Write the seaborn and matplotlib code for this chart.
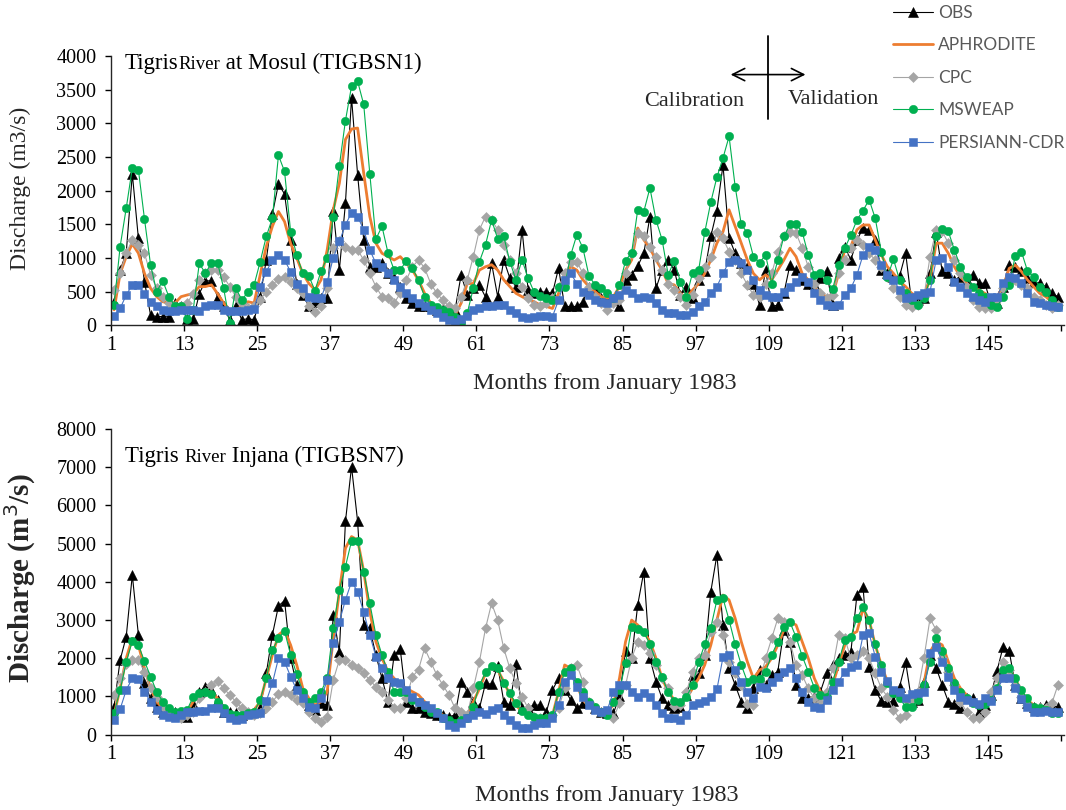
import numpy as np
import matplotlib
matplotlib.use("Agg")
import matplotlib.pyplot as plt
import seaborn as sns
from matplotlib.offsetbox import TextArea, HPacker, AnchoredOffsetbox

# ---------------- data ----------------
months = np.arange(1, 157)
tick_months = list(range(1, 146, 12))
tick_labels = [str(m) for m in tick_months]
series_names = ["OBS", "APHRODITE", "CPC", "MSWEAP", "PERSIANN-CDR"]

mosul_obs = [350, 820, 1070, 2250, 1290, 650, 150, 130, 130, 125, 330, 280,
             100, 90, 470, 660, 660, 425, 280, 80, 280, 80, 100, 80,
             425, 970, 1650, 2100, 1950, 1270, 620, 450, 280, 350, 400, 400,
             1700, 820, 1815, 3380, 2235, 1270, 870, 870, 930, 770, 700, 575,
             400, 330, 280, 280, 280, 230, 240, 250, 230, 750, 450, 550,
             600, 420, 920, 425, 970, 700, 575, 1420, 525, 475, 500, 490,
             475, 850, 280, 280, 280, 350, 575, 550, 400, 400, 375, 280,
             675, 750, 880, 1070, 1615, 550, 820, 970, 820, 450, 575, 400,
             675, 800, 1320, 1705, 2380, 1300, 1070, 920, 870, 620, 300, 820,
             280, 300, 475, 900, 820, 675, 620, 620, 700, 800, 300, 1000,
             1170, 970, 1270, 1440, 1420, 1270, 820, 770, 720, 730, 1070, 325,
             375, 400, 770, 1390, 800, 770, 675, 720, 675, 750, 625, 625,
             325, 325, 575, 895, 870, 800, 700, 650, 625, 575, 475, 425]
mosul_aphrodite = [230, 770, 1020, 1210, 1070, 770, 550, 425, 350, 330, 330, 425,
                   450, 470, 575, 575, 600, 470, 330, 230, 230, 280, 350, 330,
                   750, 1170, 1470, 1690, 1540, 1215, 1000, 770, 620, 525, 675, 1120,
                   1715, 2110, 2760, 2915, 2930, 2260, 1615, 1220, 1070, 1020, 970, 1020,
                   920, 820, 670, 475, 330, 230, 150, 130, 150, 330, 620, 620,
                   820, 870, 900, 820, 675, 575, 475, 425, 375, 350, 300, 280,
                   250, 475, 770, 870, 820, 675, 575, 500, 425, 400, 425, 575,
                   820, 970, 1445, 1270, 1145, 970, 820, 620, 600, 475, 400, 525,
                   620, 770, 970, 1220, 1390, 1715, 1470, 1220, 970, 770, 675, 750,
                   675, 820, 970, 1145, 1020, 770, 675, 575, 475, 425, 450, 770,
                   1120, 1170, 1420, 1490, 1490, 1270, 1045, 870, 770, 650, 575, 475,
                   425, 450, 675, 1220, 1220, 1070, 870, 720, 625, 550, 525, 475,
                   425, 425, 575, 845, 895, 800, 675, 575, 475, 425, 350, 300]
mosul_cpc = [525, 770, 1070, 1270, 1195, 1070, 750, 550, 425, 330, 280, 280,
             330, 470, 675, 770, 820, 820, 720, 575, 425, 330, 250, 280,
             375, 500, 600, 685, 720, 650, 550, 475, 280, 200, 280, 550,
             1145, 1245, 1170, 1120, 1120, 970, 770, 575, 425, 400, 330, 475,
             675, 870, 970, 850, 620, 475, 375, 280, 250, 425, 675, 1020,
             1420, 1615, 1565, 1420, 1195, 970, 770, 575, 400, 300, 280, 330,
             400, 575, 770, 945, 945, 770, 575, 425, 330, 230, 330, 375,
             770, 1070, 1370, 1320, 1170, 1020, 820, 620, 525, 425, 300, 450,
             700, 870, 1020, 1390, 1290, 1095, 970, 770, 600, 450, 425, 620,
             770, 1095, 1320, 1390, 1370, 1145, 870, 620, 475, 400, 450, 770,
             970, 1145, 1270, 1200, 1070, 970, 870, 720, 550, 425, 300, 275,
             300, 425, 1020, 1420, 1395, 1220, 970, 770, 575, 375, 275, 250,
             250, 375, 550, 650, 675, 600, 550, 425, 375, 300, 250, 300]
mosul_msweap = [300, 1170, 1740, 2335, 2310, 1577, 897, 500, 660, 425, 290, 280,
                90, 230, 920, 770, 930, 930, 550, 40, 550, 375, 500, 600,
                945, 1320, 1590, 2525, 2285, 1390, 1045, 770, 730, 515, 810, 1000,
                1615, 2370, 3040, 3550, 3625, 3280, 2250, 1280, 1470, 1070, 820, 820,
                960, 850, 670, 425, 300, 275, 230, 200, 130, 30, 180, 550,
                945, 1195, 1565, 1285, 1320, 945, 675, 970, 700, 490, 440, 400,
                375, 575, 575, 1045, 1345, 1145, 730, 600, 550, 475, 400, 600,
                960, 1080, 1715, 1690, 2040, 1565, 1270, 750, 960, 650, 425, 780,
                820, 1380, 1830, 2200, 2485, 2805, 2060, 1500, 1370, 1020, 930, 1045,
                620, 970, 1320, 1500, 1500, 1390, 1045, 750, 770, 675, 535, 890,
                1145, 1340, 1565, 1705, 1865, 1590, 1095, 720, 980, 670, 475, 375,
                300, 400, 680, 1320, 1430, 1395, 1120, 870, 720, 575, 475, 425,
                300, 275, 425, 600, 1030, 1095, 810, 720, 575, 500, 375, 275]
mosul_persiann = [140, 250, 450, 600, 600, 460, 350, 280, 230, 205, 205, 230,
                  230, 230, 205, 280, 295, 300, 230, 205, 205, 205, 230, 240,
                  575, 795, 970, 1045, 970, 795, 620, 550, 425, 400, 410, 650,
                  1000, 1245, 1490, 1675, 1615, 1420, 1120, 920, 870, 770, 670, 575,
                  475, 400, 330, 280, 230, 180, 130, 80, 55, 90, 140, 230,
                  250, 280, 280, 300, 300, 230, 180, 130, 105, 130, 140, 140,
                  130, 375, 675, 770, 620, 500, 450, 375, 350, 330, 400, 450,
                  525, 475, 400, 425, 400, 330, 230, 180, 190, 150, 150, 200,
                  280, 350, 475, 575, 770, 945, 970, 920, 820, 670, 525, 450,
                  425, 425, 500, 575, 650, 720, 650, 475, 375, 300, 280, 300,
                  450, 550, 750, 1045, 1170, 1120, 895, 745, 675, 525, 400, 425,
                  450, 475, 500, 970, 995, 870, 650, 575, 475, 425, 375, 350,
                  425, 425, 625, 720, 700, 625, 475, 350, 325, 300, 285, 275]

injana_obs = [735, 1955, 2565, 4180, 2610, 1345, 950, 735, 600, 560, 600, 515,
              470, 795, 1130, 1255, 1170, 910, 600, 600, 560, 515, 560, 585,
              690, 1605, 2610, 3370, 3510, 2000, 1300, 950, 775, 645, 820, 775,
              3130, 2170, 5580, 7015, 5580, 2870, 2780, 2085, 1475, 865, 2085, 2240,
              865, 705, 690, 600, 560, 515, 515, 470, 515, 1390, 1125, 865,
              690, 1345, 1320, 1805, 865, 775, 1840, 690, 705, 775, 775, 600,
              1170, 1475, 1170, 910, 690, 820, 820, 690, 600, 560, 560, 1000,
              2200, 2000, 3400, 4270, 2000, 1390, 950, 775, 700, 735, 1040, 1560,
              1605, 2085, 3745, 4705, 2870, 1735, 1300, 865, 690, 1215, 1690, 1300,
              1560, 1650, 2740, 2435, 1300, 950, 970, 995, 1125, 1605, 1825, 2000,
              2085, 2170, 3660, 3875, 1780, 1170, 880, 845, 880, 1255, 1895, 865,
              910, 1390, 2085, 1755, 1300, 865, 795, 705, 970, 950, 585, 780,
              1040, 1665, 2300, 2190, 1300, 950, 820, 735, 735, 780, 735, 735]
injana_aphrodite = [515, 1215, 2000, 2520, 2345, 1735, 1215, 865, 690, 600, 600, 650,
                    600, 865, 1080, 1125, 1125, 950, 690, 515, 515, 515, 600, 650,
                    865, 1475, 2085, 2610, 2740, 2345, 1825, 1215, 950, 775, 865, 1125,
                    2520, 3745, 4880, 5185, 5095, 4270, 3220, 2435, 2000, 1650, 1475, 1300,
                    1215, 1125, 1040, 865, 735, 600, 515, 385, 295, 340, 515, 865,
                    1200, 1605, 1780, 1695, 1390, 1040, 775, 600, 515, 430, 385, 430,
                    515, 1125, 1825, 1735, 1300, 910, 735, 645, 560, 600, 775, 1475,
                    2435, 3000, 2870, 2700, 2435, 2000, 1475, 1125, 910, 820, 950, 1215,
                    1475, 1825, 2345, 3000, 3655, 3525, 3045, 2435, 1910, 1475, 1690, 1780,
                    2000, 2345, 2740, 2960, 2870, 2435, 2000, 1475, 1125, 1040, 1300, 1825,
                    2345, 2610, 2700, 3300, 3000, 2350, 1825, 1390, 1125, 950, 865, 820,
                    1020, 1345, 2170, 2435, 2350, 1910, 1475, 1215, 1040, 910, 820, 820,
                    910, 1215, 1605, 1695, 1475, 1125, 910, 775, 690, 645, 620, 600]
injana_cpc = [1040, 1475, 1840, 1955, 1955, 1650, 1215, 995, 735, 600, 515, 430,
              515, 600, 950, 1125, 1300, 1405, 1215, 1040, 865, 690, 600, 515,
              560, 690, 865, 1055, 1125, 1040, 900, 820, 600, 430, 340, 470,
              1430, 1955, 1955, 1825, 1735, 1605, 1430, 1255, 1125, 910, 690, 690,
              950, 1520, 1700, 2265, 1910, 1560, 1300, 1040, 690, 600, 515, 1215,
              1910, 2780, 3440, 3000, 2260, 1735, 1345, 995, 690, 470, 430, 430,
              515, 690, 1215, 1735, 1825, 1390, 865, 690, 600, 560, 430, 820,
              1300, 2000, 2435, 2345, 2130, 1825, 1475, 1215, 750, 775, 1125, 1650,
              2000, 2085, 2700, 2960, 2610, 1910, 1605, 1300, 795, 775, 1390, 2000,
              2520, 3045, 2960, 2435, 1825, 1560, 1215, 950, 820, 1125, 1735, 2610,
              2520, 2000, 2085, 2200, 2000, 1605, 1215, 995, 645, 430, 515, 865,
              1125, 2000, 3045, 2740, 2000, 1650, 1300, 865, 600, 430, 430, 600,
              1125, 1475, 1910, 1695, 1300, 995, 775, 645, 690, 690, 820, 1300]
injana_msweap = [560, 1170, 1890, 2450, 2345, 1925, 1520, 1125, 865, 690, 600, 620,
                 650, 995, 1100, 1125, 1055, 865, 690, 535, 515, 515, 560, 600,
                 910, 1475, 2215, 2520, 2715, 2085, 1580, 1125, 865, 950, 1125, 1475,
                 2800, 3790, 4400, 5070, 5070, 4270, 3440, 2610, 2085, 1630, 1125, 1125,
                 1110, 910, 845, 735, 600, 585, 430, 385, 300, 385, 430, 735,
                 1300, 1630, 1810, 1740, 1345, 1080, 820, 620, 515, 455, 430, 445,
                 515, 1125, 1650, 1755, 1390, 1125, 865, 735, 600, 515, 845, 1170,
                 1870, 2830, 2765, 2680, 2370, 1910, 1500, 1125, 880, 845, 995, 1300,
                 1895, 2365, 2800, 3525, 3570, 3000, 2365, 1825, 1390, 1460, 1460, 1650,
                 2085, 2435, 2830, 2945, 2550, 2060, 1650, 1230, 1040, 995, 1390, 1910,
                 2475, 2565, 3045, 3350, 3000, 2365, 1825, 1345, 1080, 950, 735, 735,
                 910, 1300, 1900, 2540, 2190, 1735, 1345, 1125, 950, 820, 775, 795,
                 910, 1215, 1695, 1750, 1475, 1170, 950, 735, 705, 645, 560, 560]
injana_persiann = [385, 670, 1170, 1475, 1455, 1125, 865, 650, 515, 470, 445, 515,
                   585, 600, 620, 620, 690, 705, 560, 430, 385, 410, 515, 535,
                   560, 880, 1345, 2000, 1910, 1520, 1170, 950, 735, 705, 950, 1430,
                   2390, 2960, 3525, 4005, 3745, 3205, 2610, 2045, 1735, 1475, 1390, 1345,
                   1170, 995, 865, 775, 690, 560, 430, 255, 210, 300, 430, 515,
                   600, 535, 645, 690, 515, 385, 255, 165, 185, 255, 300, 315,
                   445, 775, 1390, 1560, 1255, 995, 775, 645, 600, 645, 1125, 1300,
                   1300, 1125, 995, 1080, 995, 775, 560, 445, 430, 385, 515, 775,
                   820, 880, 995, 1185, 2025, 2085, 1690, 1390, 1125, 950, 1255, 1215,
                   1390, 1520, 1650, 1735, 1475, 1125, 865, 735, 690, 910, 1170, 1390,
                   1650, 1780, 1825, 2600, 2650, 2045, 1650, 1405, 1170, 1125, 950, 1055,
                   1100, 1110, 2130, 2300, 1910, 1520, 1170, 995, 910, 845, 795, 970,
                   880, 1170, 1475, 1490, 1215, 935, 735, 600, 600, 620, 600, 600]

mosul = dict(zip(series_names, [mosul_obs, mosul_aphrodite, mosul_cpc, mosul_msweap, mosul_persiann]))
injana = dict(zip(series_names, [injana_obs, injana_aphrodite, injana_cpc, injana_msweap, injana_persiann]))
for d in (mosul, injana):
    for k, v in d.items():
        assert len(v) == 156, (k, len(v))

calib_split = 108.4  # month where calibration ends

# ---------------- style ----------------
sns.set_style("ticks")
plt.rcParams['font.family'] = ['Liberation Serif', 'DejaVu Serif']
plt.rcParams['axes.linewidth'] = 1.0

styles = {
    "OBS":          dict(color="#000000", marker="^", markersize=6.5, linewidth=0.8),
    "APHRODITE":    dict(color="#ED7D31", marker="", markersize=0, linewidth=2.0),
    "CPC":          dict(color="#A5A5A5", marker="D", markersize=4.8, linewidth=0.8),
    "MSWEAP":       dict(color="#00B050", marker="o", markersize=6.0, linewidth=0.8),
    "PERSIANN-CDR": dict(color="#4472C4", marker="s", markersize=5.8, linewidth=0.8),
}

W, H = 1066, 810
fig = plt.figure(figsize=(W / 100, H / 100), dpi=100)
ax_top = fig.add_axes([111 / W, 1 - 325.3 / H, 953 / W, 269.3 / H])
ax_bot = fig.add_axes([111 / W, 1 - 734.7 / H, 953 / W, 305.7 / H])


def draw(ax, data, ymax, ystep):
    for name in series_names:
        st = styles[name]
        sns.lineplot(x=months, y=data[name], ax=ax, color=st["color"], marker=st["marker"],
                     markersize=st["markersize"], linewidth=st["linewidth"],
                     markeredgewidth=0.4, markeredgecolor=st["color"],
                     label=name, legend=False)
    ax.set_xlim(0.5, 157)
    ax.set_ylim(0, ymax)
    ax.set_yticks(np.arange(0, ymax + 1, ystep))
    ax.set_xticks([m - 0.5 for m in tick_months] + [156.5])
    ax.set_xticklabels(tick_labels + [""])
    ax.tick_params(axis="both", direction="out", length=4.5, width=1.0, labelsize=14.5,
                   colors="black")
    ax.tick_params(axis="y", pad=6)
    ax.tick_params(axis="x", pad=3)
    for s in ("top", "right"):
        ax.spines[s].set_visible(False)
    ax.grid(False)


draw(ax_top, mosul, 4000, 500)
draw(ax_bot, injana, 8000, 1000)

# axis labels
ax_top.set_xlabel("Months from January 1983", fontsize=17.5)
ax_top.xaxis.set_label_coords((605 - 111) / 953, (325.3 - 383) / 269.3)
ax_top.xaxis.label.set_va("center")
ax_bot.set_xlabel("Months from January 1983", fontsize=17.5)
ax_bot.xaxis.set_label_coords((607 - 111) / 953, (734.7 - 795) / 305.7)
ax_bot.xaxis.label.set_va("center")

ax_top.set_ylabel("Discharge (m3/s)", fontsize=17)
ax_top.yaxis.set_label_coords((20 - 111) / 953, (325.3 - 188) / 269.3)
ax_top.yaxis.label.set_va("center")
ax_bot.set_ylabel("Discharge (m$^{3}$/s)", fontsize=21, fontweight="bold")
ax_bot.yaxis.set_label_coords((20 - 111) / 953, (734.7 - 578) / 305.7)
ax_bot.yaxis.label.set_va("center")


def station_title(ax, parts, x, y):
    boxes = [TextArea(t, textprops=dict(fontsize=fs, family="Liberation Serif", color="black"))
             for t, fs in parts]
    pack = HPacker(children=boxes, align="baseline", pad=0, sep=0)
    anc = AnchoredOffsetbox(loc="center left", child=pack, pad=0, borderpad=0, frameon=False,
                            bbox_to_anchor=(x, y), bbox_transform=ax.transAxes)
    ax.add_artist(anc)


station_title(ax_top, [("Tigris", 16.5), ("River", 13.5), (" at Mosul (TIGBSN1)", 16.5)],
              (125 - 111) / 953, (325.3 - 63) / 269.3)
station_title(ax_bot, [("Tigris ", 16.5), ("River", 13.5), (" Injana (TIGBSN7)", 16.5)],
              (125 - 111) / 953, (734.7 - 456) / 305.7)

# calibration / validation marker (top panel)
ax_top.plot([calib_split, calib_split], [3070, 4290], color="black", lw=1.3, clip_on=False)
ax_top.annotate("", xy=(101.8, 3724), xytext=(115.0, 3724),
                arrowprops=dict(arrowstyle="<->", lw=1.2, color="black", mutation_scale=22),
                annotation_clip=False)
ax_top.text(96.2, 3322, "Calibration", fontsize=16, ha="center", va="center")
ax_top.text(119.1, 3350, "Validation", fontsize=16, ha="center", va="center")

# legend
handles, labels = ax_top.get_legend_handles_labels()
fig.legend(handles, labels, loc="upper left", bbox_to_anchor=(891 / W, 1 - 3 / H),
           frameon=False, prop={"family": "Lato", "size": 12.5}, labelcolor="#595959",
           handlelength=2.3, handletextpad=0.3, labelspacing=0.95,
           borderaxespad=0, borderpad=0.1)

fig.savefig("out.png", dpi=100)
